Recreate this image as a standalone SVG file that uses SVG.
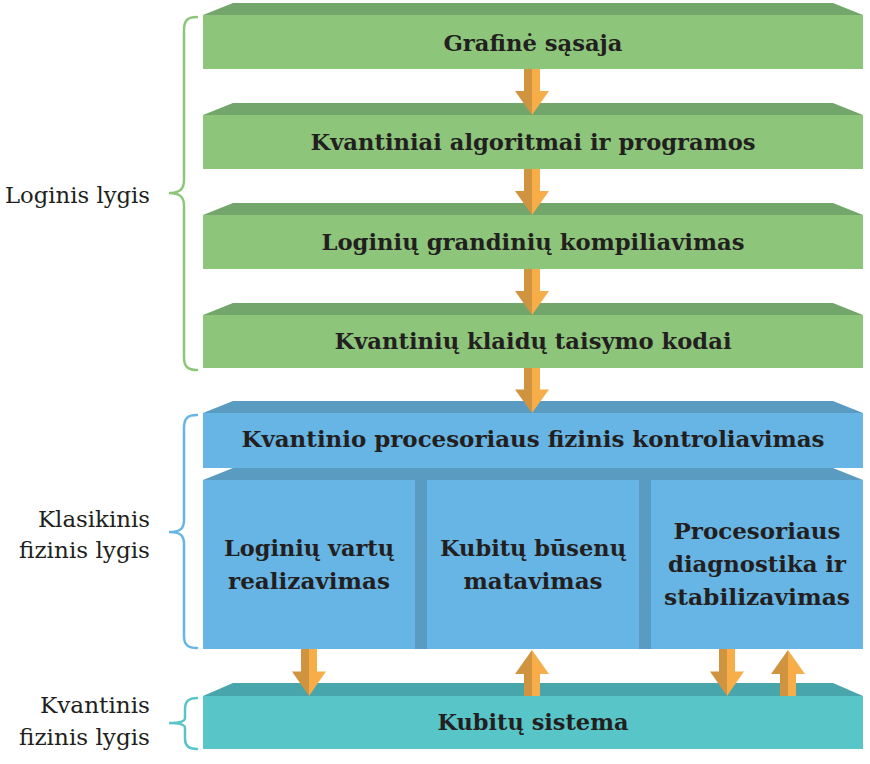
<svg xmlns="http://www.w3.org/2000/svg" xmlns:xlink="http://www.w3.org/1999/xlink" width="870" height="764" viewBox="0 0 870 764">
<style>
.t{font-family:"DejaVu Serif","Liberation Serif",serif;font-weight:bold;font-size:23px;fill:#231f20;text-anchor:middle}
.l{font-family:"DejaVu Serif","Liberation Serif",serif;font-size:23px;fill:#231f20;text-anchor:end}
.gf{fill:#8dc67b}.gb{fill:#73a66a}
.bf{fill:#67b5e5}.bb{fill:#5a9bc2}
.cf{fill:#58c5c8}.cb{fill:#48a5ab}
.brace{fill:none;stroke-width:2.5;stroke-linecap:round}
</style>
<defs>
<g id="arr">
<polygon points="-8,0 0,0 0,46 -17,22 -8,22" fill="#d09440"/>
<polygon points="0,0 8,0 8,22 17,22 0,46" fill="#f8ae48"/>
</g>
</defs>
<g id="node-grafine">
<polygon class="gb" points="203,15 233,3 833,3 863,15"/>
<rect class="gf" x="203" y="15" width="660" height="54"/>
<text class="t" x="533" y="51" textLength="179" lengthAdjust="spacingAndGlyphs">Grafinė sąsaja</text>
</g>
<g id="node-algoritmai">
<polygon class="gb" points="203,115 233,103 833,103 863,115"/>
<rect class="gf" x="203" y="115" width="660" height="54"/>
<text class="t" x="533" y="150" textLength="445" lengthAdjust="spacingAndGlyphs">Kvantiniai algoritmai ir programos</text>
</g>
<g id="node-kompiliavimas">
<polygon class="gb" points="203,215 233,203 833,203 863,215"/>
<rect class="gf" x="203" y="215" width="660" height="54"/>
<text class="t" x="533" y="250" textLength="423" lengthAdjust="spacingAndGlyphs">Loginių grandinių kompiliavimas</text>
</g>
<g id="node-kodai">
<polygon class="gb" points="203,315 233,303 833,303 863,315"/>
<rect class="gf" x="203" y="315" width="660" height="53"/>
<text class="t" x="533" y="349" textLength="397" lengthAdjust="spacingAndGlyphs">Kvantinių klaidų taisymo kodai</text>
</g>
<g id="node-kontroliavimas">
<polygon class="bb" points="203,413 233,401 833,401 863,413"/>
<rect class="bf" x="203" y="413" width="660" height="55"/>
<text class="t" x="533" y="447" textLength="583" lengthAdjust="spacingAndGlyphs">Kvantinio procesoriaus fizinis kontroliavimas</text>
</g>
<g id="node-panel">
<polygon class="bb" points="203,480 233,468 833,468 863,480"/>
<rect class="bf" x="203" y="480" width="660" height="169"/>
<rect class="bb" x="415" y="480" width="12" height="169"/>
<rect class="bb" x="639" y="480" width="12" height="169"/>
</g>
<g id="node-vartai">
<text class="t" x="309" y="556" textLength="170" lengthAdjust="spacingAndGlyphs">Loginių vartų</text>
<text class="t" x="309" y="589" textLength="162" lengthAdjust="spacingAndGlyphs">realizavimas</text>
</g>
<g id="node-matavimas">
<text class="t" x="533" y="556" textLength="186" lengthAdjust="spacingAndGlyphs">Kubitų būsenų</text>
<text class="t" x="533" y="589" textLength="139" lengthAdjust="spacingAndGlyphs">matavimas</text>
</g>
<g id="node-diagnostika">
<text class="t" x="757" y="539" textLength="167" lengthAdjust="spacingAndGlyphs">Procesoriaus</text>
<text class="t" x="757" y="572" textLength="178" lengthAdjust="spacingAndGlyphs">diagnostika ir</text>
<text class="t" x="757" y="605" textLength="186" lengthAdjust="spacingAndGlyphs">stabilizavimas</text>
</g>
<g id="node-sistema">
<polygon class="cb" points="203,696 233,683 833,683 863,696"/>
<rect class="cf" x="203" y="696" width="660" height="53"/>
<text class="t" x="533" y="730" textLength="191" lengthAdjust="spacingAndGlyphs">Kubitų sistema</text>
</g>
<g id="connectors">
<use xlink:href="#arr" href="#arr" transform="translate(532,69)"/>
<use xlink:href="#arr" href="#arr" transform="translate(532,169)"/>
<use xlink:href="#arr" href="#arr" transform="translate(532,269)"/>
<use xlink:href="#arr" href="#arr" transform="translate(532,368) scale(1,0.98)"/>
<use xlink:href="#arr" href="#arr" transform="translate(309,649) scale(1,1.02)"/>
<use xlink:href="#arr" href="#arr" transform="translate(727,649) scale(1,1.02)"/>
<use xlink:href="#arr" href="#arr" transform="translate(532,696) scale(1,-1)"/>
<use xlink:href="#arr" href="#arr" transform="translate(788,696) scale(1,-1)"/>
</g>
<g id="label-loginis">
<path class="brace" stroke="#8dc67b" d="M197,17 C188,17 184,20 184,30 L184,180 C184,189 180,193 169,193 C180,193 184,197 184,206 L184,357 C184,367 188,370 197,370"/>
<text class="l" x="150" y="203" textLength="145" lengthAdjust="spacingAndGlyphs">Loginis lygis</text>
</g>
<g id="label-klasikinis">
<path class="brace" stroke="#67b5e5" d="M197,415 C188,415 184,418 184,428 L184,520 C184,529 180,532 169,532 C180,532 184,535 184,544 L184,636 C184,645 188,648 197,648"/>
<text class="l" x="150" y="527" textLength="112" lengthAdjust="spacingAndGlyphs">Klasikinis</text>
<text class="l" x="150" y="558" textLength="131" lengthAdjust="spacingAndGlyphs">fizinis lygis</text>
</g>
<g id="label-kvantinis">
<path class="brace" stroke="#58c5c8" d="M197,698 C189,698 185,701 185,709 L185,718 C185,721 181,723 169,723 C181,723 185,725 185,728 L185,739 C185,746 189,749 197,749"/>
<text class="l" x="150" y="713" textLength="110" lengthAdjust="spacingAndGlyphs">Kvantinis</text>
<text class="l" x="150" y="745" textLength="131" lengthAdjust="spacingAndGlyphs">fizinis lygis</text>
</g>
</svg>
